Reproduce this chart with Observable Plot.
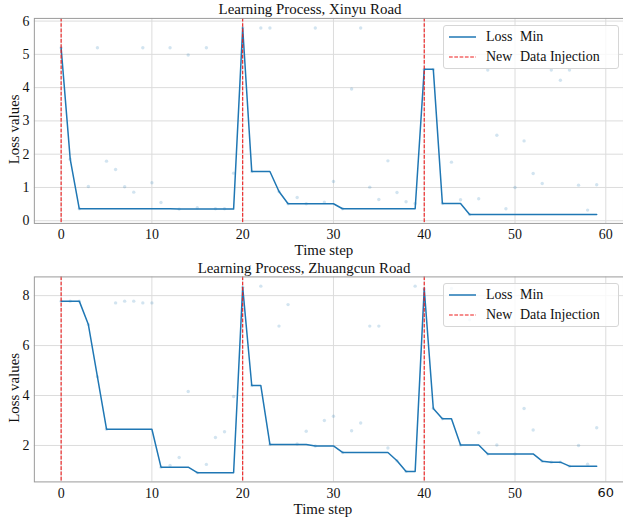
<!DOCTYPE html>
<html>
<head>
<meta charset="utf-8">
<script src="https://cdn.jsdelivr.net/npm/d3@7"></script>
<script src="https://cdn.jsdelivr.net/npm/@observablehq/plot@0.6"></script>
<style>
  html, body { margin: 0; padding: 0; background: white; }
  #wrap { position: relative; width: 623px; height: 519px; overflow: hidden; background: white; font-family: "Liberation Serif", serif; }
  .panel { position: absolute; left: 0; }
  .legend { position: absolute; left: 443px; width: 174px; height: 42px; border: 1px solid #d6d6d6; border-radius: 3px; background: rgba(255,255,255,0.8); font-family: "Liberation Serif", serif; font-size: 14px; color: #111; }
  .legend .row { position: absolute; left: 0; height: 18px; line-height: 18px; white-space: nowrap; width: 170px; }
  .legend svg { position: absolute; left: 5px; top: 0; }
  .legend span { position: absolute; top: 0; }
</style>
</head>
<body>
<div id="wrap"></div>
<script>
// ---- data ----
const steps = d3.range(0, 60);
const injections = [0, 20, 40];
const xTicks = [0, 10, 20, 30, 40, 50, 60];

const xinyuTitle = "Learning Process, Xinyu Road";
const xinyuYTicks = [0, 1, 2, 3, 4, 5, 6];
const xinyuLossMin = [
  5.2, 1.85, 0.36, 0.36, 0.36, 0.36, 0.36, 0.36, 0.36, 0.36,
  0.36, 0.36, 0.36, 0.35, 0.35, 0.35, 0.35, 0.35, 0.35, 0.35,
  5.8, 1.48, 1.48, 1.48, 0.88, 0.51, 0.51, 0.51, 0.51, 0.51,
  0.51, 0.36, 0.36, 0.36, 0.36, 0.36, 0.36, 0.36, 0.36, 0.36,
  4.55, 4.55, 0.52, 0.52, 0.52, 0.19, 0.19, 0.19, 0.19, 0.19,
  0.19, 0.19, 0.19, 0.19, 0.19, 0.19, 0.19, 0.19, 0.19, 0.19
];
const xinyuLoss = [
  5.2, 1.85, 0.36, 1.03, 5.2, 1.79, 1.54, 1.02, 0.86, 5.2,
  1.14, 0.55, 5.2, 0.35, 4.98, 0.39, 5.2, 0.36, 0.36, 1.43,
  5.8, 1.48, 5.79, 5.79, 0.88, 0.51, 0.7, 0.51, 5.79, 0.56,
  1.18, 0.36, 3.96, 5.79, 1.01, 0.64, 1.8, 0.85, 0.57, 0.52,
  4.55, 4.55, 0.52, 1.76, 0.63, 0.19, 0.66, 4.53, 2.57, 0.36,
  1.0, 2.4, 1.42, 1.12, 4.53, 4.22, 4.53, 1.07, 0.32, 1.08
];

const zhuangTitle = "Learning Process, Zhuangcun Road";
const zhuangYTicks = [2, 4, 6, 8];
const zhuangLossMin = [
  7.78, 7.78, 7.78, 6.84, 4.75, 2.65, 2.65, 2.65, 2.65, 2.65,
  2.65, 1.13, 1.13, 1.13, 1.13, 0.91, 0.91, 0.91, 0.91, 0.91,
  8.34, 4.4, 4.4, 2.04, 2.04, 2.04, 2.04, 2.04, 1.98, 1.98,
  1.98, 1.72, 1.72, 1.72, 1.72, 1.72, 1.72, 1.39, 0.96, 0.96,
  8.28, 3.48, 3.07, 3.07, 2.02, 2.02, 2.02, 1.66, 1.66, 1.66,
  1.66, 1.66, 1.66, 1.37, 1.33, 1.33, 1.17, 1.17, 1.17, 1.17
];
const zhuangLoss = [
  7.78, 7.78, 7.78, 6.84, 4.75, 2.65, 7.71, 7.78, 7.78, 7.71,
  7.71, 1.13, 1.2, 1.52, 4.16, 0.91, 1.24, 2.32, 2.55, 3.96,
  8.34, 4.4, 8.38, 2.04, 6.78, 7.64, 2.06, 2.57, 1.98, 3.0,
  3.17, 1.72, 2.59, 2.9, 6.78, 6.78, 1.9, 1.39, 0.96, 8.38,
  8.28, 3.48, 3.07, 8.29, 2.02, 7.03, 2.51, 1.66, 2.02, 7.07,
  1.66, 3.48, 2.62, 1.37, 1.33, 1.33, 1.17, 2.0, 1.25, 2.71
];

const legendLabels = [["Loss", "Min"], ["New", "Data Injection"]];
const xLabel = "Time step";
const yLabel = "Loss values";

// ---- drawing ----
function panel({title, lossMin, loss, yTicks, yDomain, marginTop, marginBottom, height, titleDx, xLabelDx, xLabelDy}) {
  const data = steps.map((t, i) => ({t, lossMin: lossMin[i], loss: loss[i]}));
  return Plot.plot({
    width: 626,
    height,
    marginLeft: 34,
    marginRight: 0,
    marginTop,
    marginBottom,
    style: {fontFamily: "Liberation Serif, serif", fontSize: "14px", color: "#111", background: "transparent", overflow: "visible"},
    x: {domain: [-2.95, 61.95]},
    y: {domain: yDomain},
    marks: [
      Plot.gridX(xTicks, {stroke: "#dcdcdc", strokeOpacity: 1, strokeWidth: 1}),
      Plot.gridY(yTicks, {stroke: "#dcdcdc", strokeOpacity: 1, strokeWidth: 1}),
      Plot.dot(data, {x: "t", y: "loss", r: 1.7, fill: "#1f77b4", fillOpacity: 0.2, stroke: "none"}),
      Plot.line(data, {x: "t", y: "lossMin", stroke: "#1f77b4", strokeWidth: 1.5}),
      Plot.ruleX(injections, {stroke: "#ee1c1c", strokeWidth: 1.1, strokeDasharray: "3.7,1.6"}),
      Plot.frame({stroke: "#9a9a9a", strokeWidth: 1}),
      Plot.axisX(xTicks, {tickSize: 0, tickPadding: 6, label: null, fontSize: 14}),
      Plot.axisY(yTicks, {tickSize: 0, tickPadding: 5, label: null, fontSize: 14}),
      Plot.text([title], {text: d => d, frameAnchor: "top", lineAnchor: "bottom", dy: -4, dx: titleDx, fontSize: 15}),
      Plot.text([xLabel], {text: d => d, frameAnchor: "bottom", lineAnchor: "bottom", dy: xLabelDy, dx: xLabelDx, fontSize: 15}),
      Plot.text([yLabel], {text: d => d, frameAnchor: "left", rotate: -90, lineAnchor: "middle", textAnchor: "middle", dx: -20, dy: 8.5, fontSize: 15})
    ]
  });
}

function legend(top) {
  const div = document.createElement("div");
  div.className = "legend";
  div.style.top = top + "px";
  const rows = [
    {label: legendLabels[0], stroke: "#1f77b4", dash: null, width: 1.5},
    {label: legendLabels[1], stroke: "#ee1c1c", dash: "3.7,1.6", width: 1.1}
  ];
  rows.forEach((r, i) => {
    const row = document.createElement("div");
    row.className = "row";
    row.style.top = (2 + i * 20) + "px";
    const svg = d3.create("svg").attr("width", 28).attr("height", 18);
    svg.append("line").attr("x1", 0).attr("x2", 27).attr("y1", 9).attr("y2", 9)
      .attr("stroke", r.stroke).attr("stroke-width", r.width)
      .attr("stroke-dasharray", r.dash);
    row.appendChild(svg.node());
    const a = document.createElement("span");
    a.textContent = r.label[0];
    a.style.left = "42px";
    const b = document.createElement("span");
    b.textContent = r.label[1];
    b.style.left = "76px";
    row.appendChild(a);
    row.appendChild(b);
    div.appendChild(row);
  });
  return div;
}

const wrap = document.getElementById("wrap");

const top1 = document.createElement("div");
top1.className = "panel";
top1.style.top = "0px";
top1.appendChild(panel({
  title: xinyuTitle, lossMin: xinyuLossMin, loss: xinyuLoss,
  yTicks: xinyuYTicks, yDomain: [-0.08, 6.08],
  marginTop: 18, marginBottom: 34, height: 258,
  titleDx: -19, xLabelDx: -5, xLabelDy: 32
}));
wrap.appendChild(top1);
wrap.appendChild(legend(25));

const top2 = document.createElement("div");
top2.className = "panel";
top2.style.top = "258px";
const svg2 = panel({
  title: zhuangTitle, lossMin: zhuangLossMin, loss: zhuangLoss,
  yTicks: zhuangYTicks, yDomain: [0.54, 8.75],
  marginTop: 18.5, marginBottom: 36.5, height: 261,
  titleDx: -25, xLabelDx: -6, xLabelDy: 32
});
top2.appendChild(svg2);
wrap.appendChild(top2);
wrap.appendChild(legend(283));

// the last tick label of the lower panel is drawn in a sans font in the reference
d3.select(svg2).selectAll("g[aria-label='x-axis tick label'] text")
  .filter(function () { return this.textContent === "60"; })
  .attr("font-family", "DejaVu Sans").attr("font-size", 13);
</script>
</body>
</html>
